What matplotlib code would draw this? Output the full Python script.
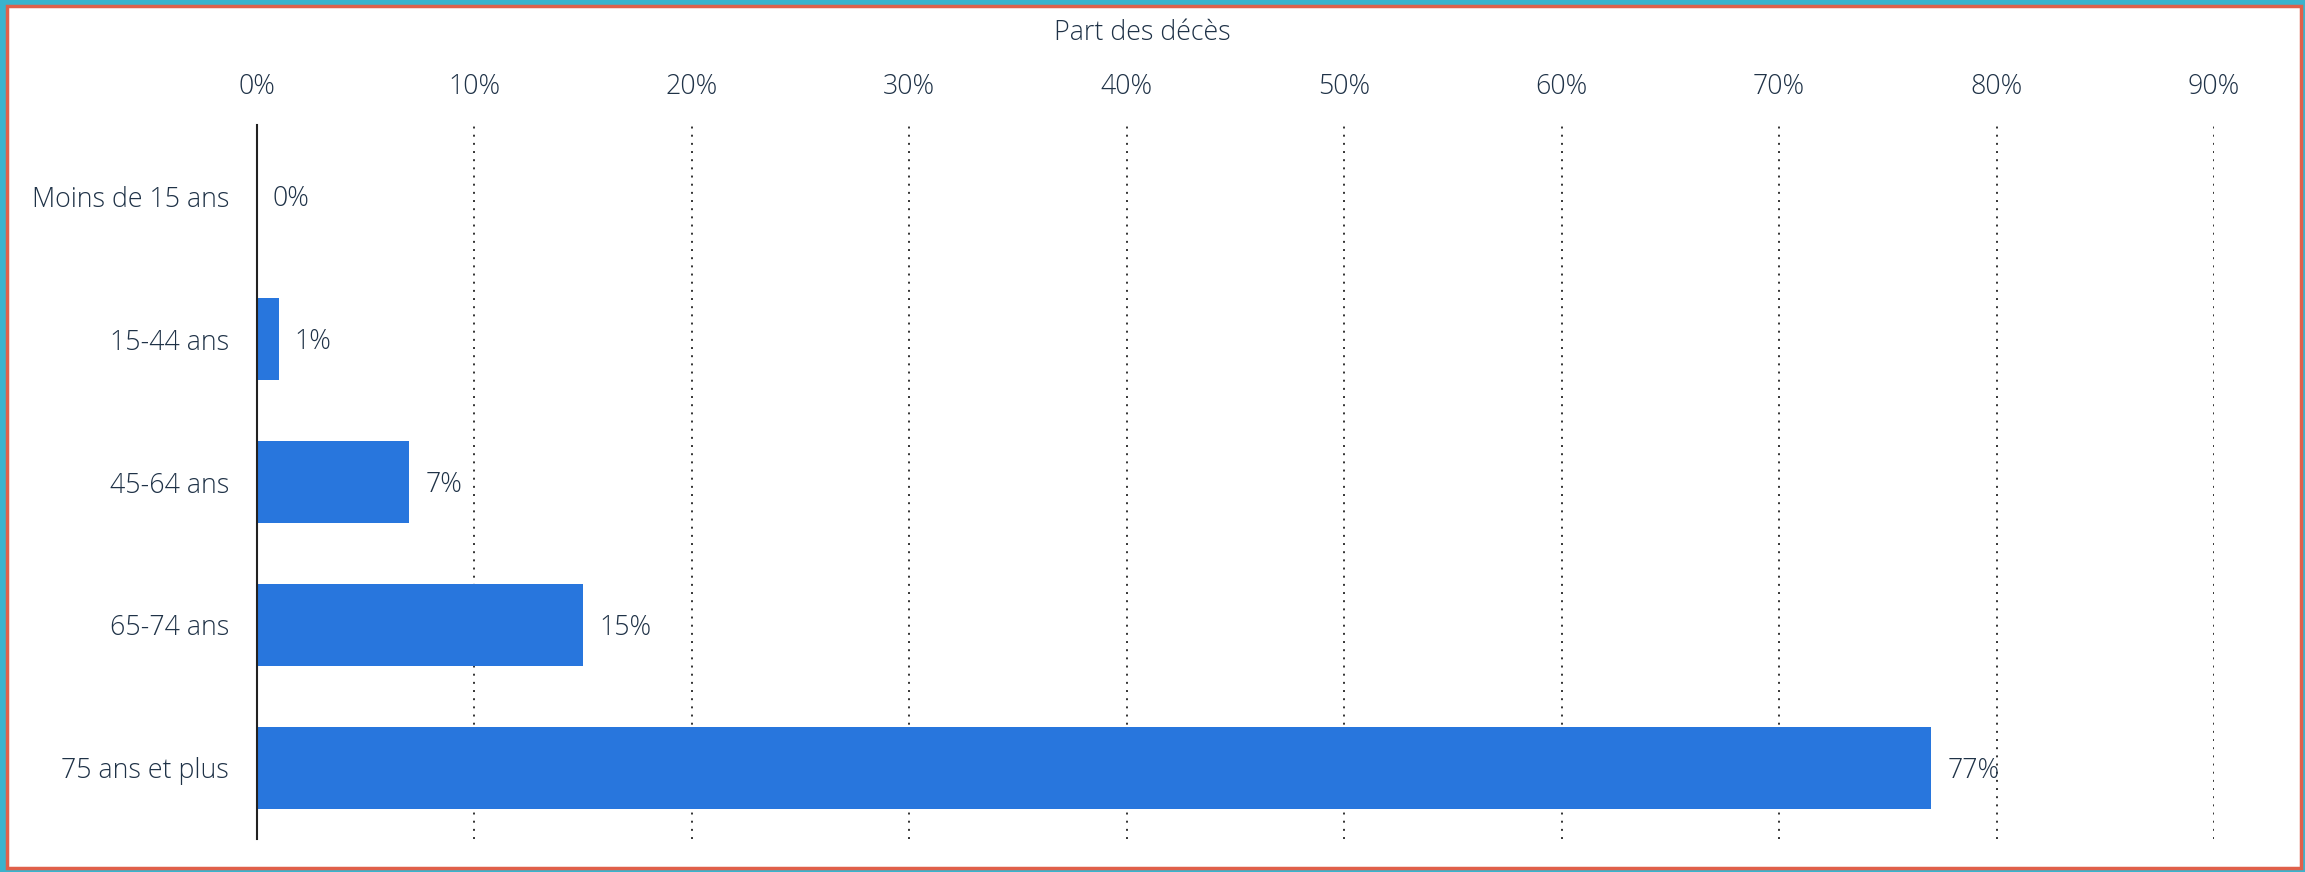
import matplotlib
matplotlib.use("Agg")
import matplotlib.pyplot as plt
from matplotlib.patches import Rectangle

categories = ["Moins de 15 ans", "15-44 ans", "45-64 ans", "65-74 ans", "75 ans et plus"]
values = [0, 1, 7, 15, 77]
xticks = [0, 10, 20, 30, 40, 50, 60, 70, 80, 90]
xtick_labels = [f"{t}%" for t in xticks]
axis_title = "Part des décès"

W, H = 2305, 872
DPI = 100
TEXT = "#1f3247"
BAR = "#2876dd"
FS = 19.3
FONT = ["Open Sans", "DejaVu Sans"]
plt.rcParams["font.family"] = FONT

fig = plt.figure(figsize=(W / DPI, H / DPI), dpi=DPI)
fig.patch.set_facecolor("#3ab3cd")
# white card with red border
fig.patches.append(Rectangle((6.5 / W, 4.5 / H), (W - 11) / W, (H - 11) / H,
                             transform=fig.transFigure, facecolor="white",
                             edgecolor="#e0604a", linewidth=2.5, zorder=-5))

ax = fig.add_axes([257 / W, 1 - 839 / H, (2214 - 257) / W, (839 - 125) / H])
ax.set_zorder(2)
ax.set_facecolor("none")
ypos = list(range(len(categories)))
ax.barh(ypos, values, height=0.575, color=BAR, zorder=3)
ax.set_ylim(len(categories) - 0.5, -0.5)
ax.set_xlim(0, 90)

for y, v in zip(ypos, values):
    ax.annotate(f"{v}%", xy=(v, y), xytext=(16, -3), textcoords="offset pixels",
                ha="left", va="center", fontsize=FS, color=TEXT,
                fontweight="light", zorder=4)

for t in xticks[1:]:
    ax.axvline(t, color="#333333", linewidth=1.4, linestyle=(0, (1, 3.2)), zorder=1)

ax.xaxis.tick_top()
ax.set_xticks(xticks)
ax.set_xticklabels(xtick_labels)
ax.set_yticks(ypos)
ax.set_yticklabels(categories)
ax.tick_params(axis="x", length=0, pad=17, labelsize=FS, labelcolor=TEXT)
ax.tick_params(axis="y", length=0, pad=20, labelsize=FS, labelcolor=TEXT)
for lab in ax.get_xticklabels() + ax.get_yticklabels():
    lab.set_fontweight("light")

for s in ["top", "right", "bottom"]:
    ax.spines[s].set_visible(False)
ax.spines["left"].set_color("#222222")
ax.spines["left"].set_linewidth(1.5)
ax.spines["left"].set_zorder(5)

fig.text(1142 / W, 1 - 33 / H, axis_title, ha="center", va="center",
         fontsize=FS, color=TEXT, fontweight="light")

fig.savefig("out.png", dpi=DPI)
